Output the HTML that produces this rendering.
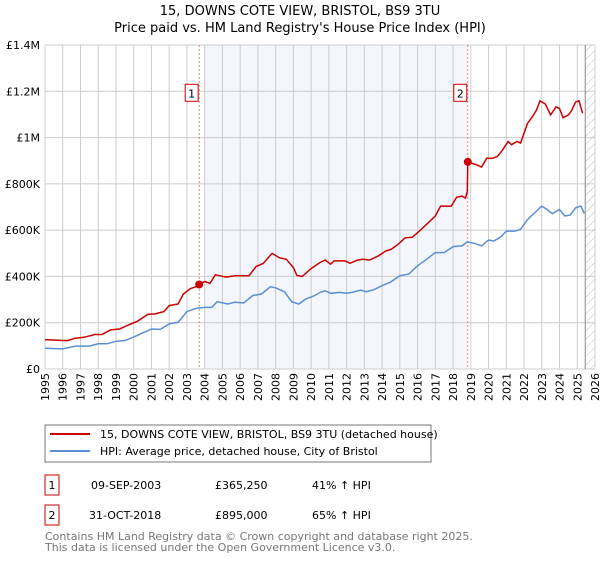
<!DOCTYPE html>
<html><head><meta charset="utf-8"><style>
body{margin:0;background:#fff;font-family:"Liberation Sans","DejaVu Sans",sans-serif;}
svg text{font-family:"DejaVu Sans","Liberation Sans",sans-serif;}
</style></head><body>
<svg id="c" width="600" height="560" xmlns="http://www.w3.org/2000/svg">
<defs><pattern id="hatch" width="6" height="6" patternUnits="userSpaceOnUse" patternTransform="rotate(45)"><line x1="0" y1="0" x2="0" y2="6" stroke="#bbb" stroke-width="1"/></pattern></defs>
<text x="300" y="15" text-anchor="middle" font-size="13">15, DOWNS COTE VIEW, BRISTOL, BS9 3TU</text>
<text x="300" y="32" text-anchor="middle" font-size="13">Price paid vs. HM Land Registry's House Price Index (HPI)</text>
<g id="grid"></g><g id="marks"></g><g id="axes"></g>
<rect x="45" y="425" width="386" height="37" fill="#fff" stroke="#777"/>
<line x1="50" y1="434" x2="90" y2="434" stroke="#cc0000" stroke-width="2"/>
<text x="100" y="438" font-size="11">15, DOWNS COTE VIEW, BRISTOL, BS9 3TU (detached house)</text>
<line x1="50" y1="451" x2="90" y2="451" stroke="#5b8fd4" stroke-width="2"/>
<text x="100" y="455" font-size="11">HPI: Average price, detached house, City of Bristol</text>
<rect x="45" y="475" width="14" height="20" fill="none" stroke="#cc0000"/>
<text x="52" y="489" text-anchor="middle" font-size="11">1</text>
<text x="91" y="489" font-size="11">09-SEP-2003</text>
<text x="215" y="489" font-size="11">£365,250</text>
<text x="312" y="489" font-size="11">41% ↑ HPI</text>
<rect x="45" y="505" width="14" height="20" fill="none" stroke="#cc0000"/>
<text x="52" y="519" text-anchor="middle" font-size="11">2</text>
<text x="89" y="519" font-size="11">31-OCT-2018</text>
<text x="215" y="519" font-size="11">£895,000</text>
<text x="312" y="519" font-size="11">65% ↑ HPI</text>
<text x="45" y="540" font-size="11" fill="#777">Contains HM Land Registry data © Crown copyright and database right 2025.</text>
<text x="45" y="551" font-size="11" fill="#777">This data is licensed under the Open Government Licence v3.0.</text>
</svg>
<script>
const yTicks=[0,200000,400000,600000,800000,1000000,1200000,1400000];
const yTickLabels=["£0","£200K","£400K","£600K","£800K","£1M","£1.2M","£1.4M"];
const years=[1995,1996,1997,1998,1999,2000,2001,2002,2003,2004,2005,2006,2007,2008,2009,2010,2011,2012,2013,2014,2015,2016,2017,2018,2019,2020,2021,2022,2023,2024,2025,2026];
const redT=[1995,1996,1996.3,1996.7,1997.2,1997.8,1998.2,1998.7,1999.2,1999.7,2000.2,2000.8,2001.2,2001.7,2002,2002.5,2002.8,2003.2,2003.5,2003.69,2004,2004.3,2004.6,2005.2,2005.7,2006.2,2006.5,2006.9,2007.3,2007.8,2008.2,2008.6,2009,2009.2,2009.5,2010,2010.5,2010.8,2011.1,2011.3,2011.9,2012.2,2012.6,2012.9,2013.3,2013.8,2014.2,2014.5,2014.9,2015.3,2015.7,2016.1,2016.5,2017,2017.3,2017.9,2018.2,2018.5,2018.7,2018.8,2018.83,2019,2019.3,2019.6,2019.9,2020.2,2020.5,2020.8,2021.1,2021.3,2021.6,2021.8,2022.2,2022.5,2022.7,2022.9,2023.2,2023.5,2023.8,2024,2024.2,2024.5,2024.7,2024.9,2025.1,2025.3];
const redV=[127,123,123,133,137,149,149,169,173,190,206,236,238,248,274,281,324,348,355,365,378,370,407,397,403,403,403,443,456,500,481,474,438,404,400,434,460,471,453,467,467,457,470,474,471,489,510,517,539,567,569,596,625,661,704,704,742,747,739,768,895,890,883,873,911,910,918,947,983,969,983,976,1062,1093,1119,1159,1145,1098,1133,1125,1086,1098,1119,1153,1159,1105];
const blueT=[1995,1996,1996.7,1997.5,1998,1998.5,1999,1999.5,2000,2000.5,2001,2001.5,2002,2002.5,2003,2003.5,2004,2004.4,2004.7,2005.3,2005.7,2006.2,2006.7,2007.2,2007.7,2008,2008.5,2008.9,2009.3,2009.7,2010.2,2010.5,2010.8,2011.1,2011.6,2012,2012.3,2012.8,2013.1,2013.5,2014,2014.5,2015,2015.5,2016,2016.5,2017,2017.5,2018,2018.5,2018.8,2019.2,2019.6,2020,2020.3,2020.7,2021,2021.5,2021.8,2022.2,2022.5,2022.8,2023,2023.3,2023.6,2024,2024.3,2024.6,2024.9,2025.2,2025.4];
const blueV=[90,87,99,99,109,109,120,123,138,156,173,171,195,202,248,262,266,266,291,281,288,285,317,324,355,351,334,291,281,302,317,331,338,327,331,327,331,341,334,342,360,377,403,410,446,474,503,503,529,532,549,543,532,557,553,572,596,596,603,646,668,689,704,689,671,689,661,665,696,704,672];
const saleT=[2003.69,2018.83];
const saleV=[365.25,895];
const saleLabels=["1","2"];
const X0=45,X1=595,Y0=369,Y1=45;
const x=t=>X0+(t-1995)*(X1-X0)/31;
const y=v=>Y0-v*(Y0-Y1)/1400000;
const NS="http://www.w3.org/2000/svg";
function mk(tag,attrs,parent){const e=document.createElementNS(NS,tag);for(const k in attrs)e.setAttribute(k,attrs[k]);document.getElementById(parent).appendChild(e);return e;}
let bg=mk('rect',{x:x(2004),y:Y1,width:x(saleT[1])-x(2004),height:Y0-Y1,fill:'#eef3fc',opacity:0.7},'grid');


years.forEach(yr=>{const l=mk('line',{x1:x(yr),x2:x(yr),y1:Y1,y2:Y0,stroke:'#ccc'},'grid');


const t=mk('text',{x:0,y:0,'font-size':11,'text-anchor':'end',transform:`translate(${x(yr)+4},373) rotate(-90)`},'axes');t.textContent=yr;

});
yTicks.forEach((v,i)=>{const l=mk('line',{x1:X0,x2:X1,y1:y(v),y2:y(v),stroke:'#ccc'},'grid');


const t=mk('text',{x:40,y:y(v)+4,'font-size':11,'text-anchor':'end'},'axes');t.textContent=yTickLabels[i];

});
let h=mk('rect',{x:x(2025.45),y:Y1,width:X1-x(2025.45),height:Y0-Y1,fill:'url(#hatch)'},'grid');


let hl=mk('line',{x1:x(2025.45),x2:x(2025.45),y1:Y1,y2:Y0,stroke:'#888'},'grid');


saleT.forEach((t,i)=>{const l=mk('line',{x1:x(t),x2:x(t),y1:Y1,y2:Y0,stroke:'#e06060','stroke-dasharray':'2,2','stroke-width':0.8},'marks');


const r=mk('rect',{x:x(t)-14,y:y(1200000)-7,width:13,height:17,fill:'#fff',stroke:'#cc0000'},'marks');


const tx=mk('text',{x:x(t)-7.5,y:y(1200000)+6,'font-size':11,'text-anchor':'middle'},'marks');tx.textContent=saleLabels[i];

});
function path(T,V,col,name){const d=T.map((t,i)=>(i?'L':'M')+x(t).toFixed(1)+','+y(V[i]*1000).toFixed(1)).join('');
const p=mk('path',{d,fill:'none',stroke:col,'stroke-width':1.5},'marks');

}
path(blueT,blueV,'#5b8fd4','hpi-line');
path(redT,redV,'#cc0000','property-line');
saleT.forEach((t,i)=>{const c=mk('circle',{cx:x(t),cy:y(saleV[i]*1000),r:4,fill:'#cc0000'},'marks');

});
</script>
</body></html>
